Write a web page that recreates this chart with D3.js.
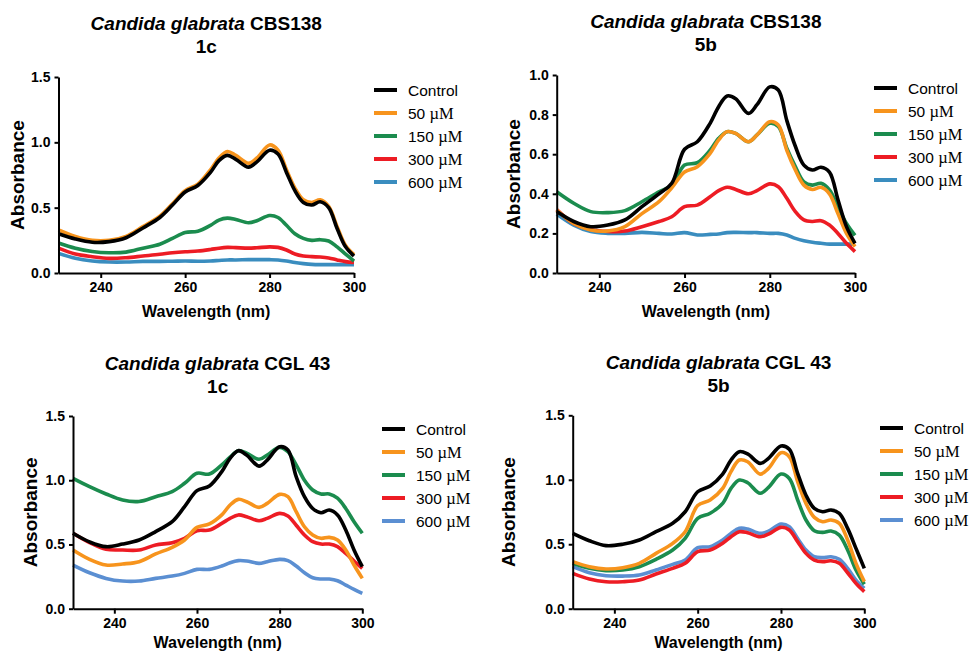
<!DOCTYPE html>
<html>
<head>
<meta charset="utf-8">
<script src="https://cdn.jsdelivr.net/npm/d3@7"></script>
<style>
  body { margin: 0; background: #fff; }
  svg { display: block; }
</style>
</head>
<body>
<svg id="chart" width="970" height="653"></svg>
<script>
// wavelengths (nm) shared by every spectrum
var wavelengths = [230, 234, 238, 242, 246, 250, 254, 257, 260, 263, 266, 268, 270, 272,
                   275, 277, 280, 282, 284, 286, 288, 290, 292, 294, 296, 298, 300];

var seriesNames = ["Control", "50", "150", "300", "600"];
var xTicks = [240, 260, 280, 300];

// Candida glabrata CBS138, compound 1c
var cbs1cControl = [0.30, 0.26, 0.235, 0.24, 0.27, 0.345, 0.425, 0.52, 0.62, 0.67, 0.77, 0.86, 0.90, 0.87, 0.81, 0.85, 0.94, 0.91, 0.77, 0.63, 0.54, 0.52, 0.545, 0.50, 0.34, 0.20, 0.13];
var cbs1c50 = [0.33, 0.28, 0.25, 0.25, 0.28, 0.355, 0.435, 0.53, 0.63, 0.68, 0.79, 0.88, 0.93, 0.90, 0.84, 0.88, 0.98, 0.94, 0.79, 0.65, 0.56, 0.54, 0.56, 0.51, 0.355, 0.21, 0.14];
var cbs1c150 = [0.23, 0.19, 0.165, 0.155, 0.16, 0.19, 0.22, 0.265, 0.31, 0.32, 0.365, 0.405, 0.42, 0.41, 0.385, 0.40, 0.44, 0.425, 0.365, 0.30, 0.265, 0.25, 0.255, 0.245, 0.20, 0.145, 0.09];
var cbs1c300 = [0.19, 0.145, 0.125, 0.112, 0.117, 0.13, 0.143, 0.155, 0.163, 0.168, 0.18, 0.19, 0.196, 0.194, 0.19, 0.193, 0.20, 0.196, 0.176, 0.145, 0.13, 0.125, 0.122, 0.115, 0.10, 0.087, 0.08];
var cbs1c600 = [0.15, 0.112, 0.092, 0.084, 0.084, 0.089, 0.089, 0.09, 0.092, 0.09, 0.092, 0.096, 0.10, 0.10, 0.102, 0.102, 0.102, 0.10, 0.092, 0.08, 0.072, 0.066, 0.064, 0.064, 0.064, 0.064, 0.064];

// Candida glabrata CBS138, compound 5b
var cbs5bControl = [0.31, 0.26, 0.234, 0.242, 0.268, 0.335, 0.40, 0.453, 0.625, 0.663, 0.756, 0.84, 0.894, 0.88, 0.806, 0.85, 0.94, 0.924, 0.77, 0.64, 0.545, 0.52, 0.534, 0.51, 0.37, 0.234, 0.15];
var cbs5b50 = [0.318, 0.25, 0.217, 0.212, 0.234, 0.30, 0.36, 0.43, 0.51, 0.537, 0.604, 0.672, 0.714, 0.705, 0.663, 0.697, 0.764, 0.747, 0.62, 0.52, 0.444, 0.422, 0.433, 0.40, 0.30, 0.20, 0.133];
var cbs5b150 = [0.41, 0.352, 0.31, 0.305, 0.315, 0.36, 0.41, 0.444, 0.545, 0.557, 0.62, 0.68, 0.714, 0.705, 0.663, 0.697, 0.756, 0.74, 0.63, 0.537, 0.46, 0.444, 0.453, 0.42, 0.335, 0.25, 0.19];
var cbs5b300 = [0.32, 0.25, 0.22, 0.21, 0.212, 0.234, 0.26, 0.284, 0.335, 0.343, 0.385, 0.416, 0.433, 0.422, 0.40, 0.416, 0.45, 0.436, 0.377, 0.31, 0.268, 0.26, 0.264, 0.242, 0.20, 0.15, 0.108];
var cbs5b600 = [0.298, 0.242, 0.209, 0.20, 0.20, 0.205, 0.20, 0.197, 0.204, 0.192, 0.195, 0.197, 0.204, 0.205, 0.204, 0.204, 0.20, 0.20, 0.192, 0.175, 0.163, 0.155, 0.15, 0.146, 0.146, 0.146, 0.146];

// Candida glabrata CGL 43, compound 1c
var cgl1cControl = [0.587, 0.52, 0.483, 0.503, 0.535, 0.60, 0.677, 0.794, 0.919, 0.955, 1.067, 1.17, 1.23, 1.196, 1.11, 1.157, 1.26, 1.235, 1.028, 0.872, 0.78, 0.747, 0.768, 0.73, 0.613, 0.457, 0.327];
var cgl1c50 = [0.457, 0.384, 0.34, 0.348, 0.366, 0.426, 0.478, 0.535, 0.633, 0.66, 0.73, 0.807, 0.851, 0.833, 0.789, 0.82, 0.89, 0.872, 0.755, 0.638, 0.574, 0.548, 0.555, 0.535, 0.457, 0.34, 0.236];
var cgl1c150 = [1.015, 0.95, 0.893, 0.846, 0.835, 0.872, 0.911, 0.976, 1.054, 1.048, 1.12, 1.18, 1.23, 1.21, 1.163, 1.196, 1.256, 1.222, 1.12, 1.00, 0.924, 0.893, 0.893, 0.86, 0.78, 0.677, 0.587];
var cgl1c300 = [0.587, 0.514, 0.462, 0.457, 0.457, 0.496, 0.514, 0.548, 0.607, 0.612, 0.664, 0.703, 0.73, 0.716, 0.685, 0.703, 0.742, 0.721, 0.65, 0.574, 0.522, 0.503, 0.503, 0.483, 0.43, 0.371, 0.314];
var cgl1c600 = [0.34, 0.28, 0.236, 0.215, 0.215, 0.236, 0.254, 0.275, 0.306, 0.306, 0.332, 0.358, 0.374, 0.371, 0.353, 0.366, 0.384, 0.374, 0.332, 0.28, 0.241, 0.231, 0.231, 0.218, 0.184, 0.15, 0.12];

// Candida glabrata CGL 43, compound 5b
var cgl5bControl = [0.584, 0.527, 0.489, 0.50, 0.533, 0.597, 0.662, 0.752, 0.907, 0.951, 1.044, 1.153, 1.218, 1.20, 1.127, 1.166, 1.262, 1.236, 1.05, 0.88, 0.778, 0.752, 0.765, 0.739, 0.623, 0.468, 0.313];
var cgl5b50 = [0.365, 0.326, 0.308, 0.318, 0.352, 0.429, 0.507, 0.597, 0.80, 0.843, 0.933, 1.063, 1.153, 1.14, 1.044, 1.088, 1.21, 1.179, 0.985, 0.817, 0.708, 0.675, 0.688, 0.662, 0.533, 0.352, 0.21];
var cgl5b150 = [0.352, 0.313, 0.295, 0.30, 0.326, 0.383, 0.455, 0.546, 0.70, 0.74, 0.817, 0.933, 0.998, 0.977, 0.895, 0.941, 1.044, 1.01, 0.843, 0.688, 0.605, 0.592, 0.602, 0.571, 0.455, 0.30, 0.189];
var cgl5b300 = [0.274, 0.23, 0.209, 0.209, 0.222, 0.269, 0.313, 0.352, 0.442, 0.455, 0.507, 0.558, 0.597, 0.589, 0.558, 0.579, 0.631, 0.61, 0.52, 0.429, 0.377, 0.365, 0.372, 0.352, 0.279, 0.196, 0.132];
var cgl5b600 = [0.326, 0.279, 0.256, 0.253, 0.261, 0.30, 0.344, 0.377, 0.473, 0.481, 0.533, 0.584, 0.623, 0.618, 0.584, 0.602, 0.657, 0.636, 0.545, 0.455, 0.403, 0.396, 0.403, 0.383, 0.313, 0.222, 0.158];

var panels = [
  { strain: "CBS138", compound: "1c", yMax: 1.5, yTicks: [0, 0.5, 1.0, 1.5],
    series: [cbs1cControl, cbs1c50, cbs1c150, cbs1c300, cbs1c600],
    x0: 58.5, x1: 354, yTop: 77, yBottom: 273, titleY: 30, legX: 374, legY: 90, labX: 17, xLabY: 317, blue: "#3a8dbf" },
  { strain: "CBS138", compound: "5b", yMax: 1.0, yTicks: [0, 0.2, 0.4, 0.6, 0.8, 1.0],
    series: [cbs5bControl, cbs5b50, cbs5b150, cbs5b300, cbs5b600],
    x0: 556.7, x1: 855, yTop: 75, yBottom: 273, titleY: 28, legX: 874, legY: 88, labX: 513, xLabY: 317, blue: "#3a8dbf" },
  { strain: "CGL 43", compound: "1c", yMax: 1.5, yTicks: [0, 0.5, 1.0, 1.5],
    series: [cgl1cControl, cgl1c50, cgl1c150, cgl1c300, cgl1c600],
    x0: 73, x1: 362.3, yTop: 416, yBottom: 608.7, titleY: 370, legX: 382, legY: 429, labX: 30, xLabY: 648, blue: "#5b8fd2" },
  { strain: "CGL 43", compound: "5b", yMax: 1.5, yTicks: [0, 0.5, 1.0, 1.5],
    series: [cgl5bControl, cgl5b50, cgl5b150, cgl5b300, cgl5b600],
    x0: 572.7, x1: 864.3, yTop: 415.3, yBottom: 608.7, titleY: 369, legX: 880, legY: 428, labX: 508, xLabY: 648, blue: "#5b8fd2" }
];

var baseColors = ["#000000", "#f7941d", "#1b8c4e", "#ed1c24"];
var FONT = "'Liberation Sans', Arial, sans-serif";

var svg = d3.select("#chart");

panels.forEach(function (p) {
  var g = svg.append("g"),
      colors = baseColors.concat([p.blue]),
      x = d3.scaleLinear().domain([230, 300]).range([p.x0, p.x1]),
      y = d3.scaleLinear().domain([0, p.yMax]).range([p.yBottom, p.yTop]),
      cx = (p.x0 + p.x1) / 2,
      line = d3.line()
        .x(function (d, i) { return x(wavelengths[i]); })
        .y(function (d) { return y(d); })
        .curve(d3.curveCatmullRom.alpha(0.5));

  // title
  var t = g.append("text")
    .attr("x", cx).attr("y", p.titleY)
    .attr("text-anchor", "middle")
    .style("font-family", FONT).style("font-size", "19px").style("font-weight", "bold");
  t.append("tspan").style("font-style", "italic").text("Candida glabrata");
  t.append("tspan").text(" " + p.strain);
  g.append("text")
    .attr("x", cx).attr("y", p.titleY + 23)
    .attr("text-anchor", "middle")
    .style("font-family", FONT).style("font-size", "19px").style("font-weight", "bold")
    .text(p.compound);

  // spectra, drawn low concentration on top like the original
  g.selectAll("path.spectrum")
    .data(p.series.slice().reverse())
    .enter().append("path")
    .attr("class", "spectrum")
    .attr("d", line)
    .attr("fill", "none")
    .attr("stroke", function (d, i) { return colors[4 - i]; })
    .attr("stroke-width", 3.6)
    .attr("stroke-linejoin", "round");

  // axes
  var xAxis = g.append("g")
    .attr("transform", "translate(0," + p.yBottom + ")")
    .call(d3.axisBottom(x).tickValues(xTicks).tickSize(5).tickSizeOuter(0).tickPadding(4));
  var yAxis = g.append("g")
    .attr("transform", "translate(" + p.x0 + ",0)")
    .call(d3.axisLeft(y).tickValues(p.yTicks).tickFormat(d3.format(".1f")).tickSize(4).tickSizeOuter(0).tickPadding(4));
  [xAxis, yAxis].forEach(function (a) {
    a.selectAll("path.domain").attr("stroke", "#000").attr("stroke-width", 2);
    a.selectAll(".tick line").attr("stroke", "#000").attr("stroke-width", 2);
    a.selectAll(".tick text")
      .attr("fill", "#000")
      .style("font-family", FONT).style("font-size", "14px").style("font-weight", "bold");
  });

  // axis titles
  g.append("text")
    .attr("x", cx).attr("y", p.xLabY)
    .attr("text-anchor", "middle")
    .style("font-family", FONT).style("font-size", "16px").style("font-weight", "bold")
    .text("Wavelength (nm)");
  g.append("text")
    .attr("transform", "translate(" + (p.labX + 7) + "," + ((p.yTop + p.yBottom) / 2) + ") rotate(-90)")
    .attr("text-anchor", "middle")
    .style("font-family", FONT).style("font-size", "19px").style("font-weight", "bold")
    .text("Absorbance");

  // legend
  var leg = g.selectAll("g.legend")
    .data(seriesNames)
    .enter().append("g")
    .attr("class", "legend")
    .attr("transform", function (d, i) { return "translate(" + p.legX + "," + (p.legY + i * 23) + ")"; });
  leg.append("line")
    .attr("x1", 0).attr("x2", 23)
    .attr("stroke", function (d, i) { return colors[i]; })
    .attr("stroke-width", 4);
  var lt = leg.append("text")
    .attr("x", 34).attr("y", 5.5)
    .style("font-family", FONT).style("font-size", "15.5px");
  lt.append("tspan").text(function (d) { return d === "Control" ? d : d + " "; });
  lt.filter(function (d) { return d !== "Control"; })
    .append("tspan")
    .style("font-family", "'Liberation Serif', 'Times New Roman', serif")
    .style("font-size", "16.5px")
    .text("\u00b5M");
});
</script>
</body>
</html>
